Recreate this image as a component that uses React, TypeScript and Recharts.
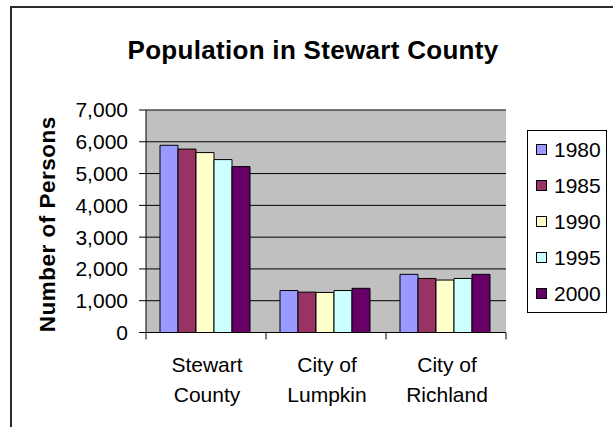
import React from 'react';
import { BarChart, Bar, XAxis, YAxis, CartesianGrid, Legend, Label } from 'recharts';

const categories = ['Stewart County', 'City of Lumpkin', 'City of Richland'];
const years = ['1980', '1985', '1990', '1995', '2000'];
const pop1980 = [5890, 1320, 1830];
const pop1985 = [5770, 1270, 1700];
const pop1990 = [5660, 1260, 1650];
const pop1995 = [5440, 1320, 1700];
const pop2000 = [5220, 1390, 1830];
const yTicks = [0, 1000, 2000, 3000, 4000, 5000, 6000, 7000];

const seriesValues = [pop1980, pop1985, pop1990, pop1995, pop2000];
const seriesColors = ['#9999FF', '#993366', '#FFFFCC', '#CCFFFF', '#660066'];

const data = categories.map((name, i) => {
  const row: Record<string, string | number> = { name };
  years.forEach((y, s) => {
    row[y] = seriesValues[s][i];
  });
  return row;
});

const FONT = '"Liberation Sans", Arial, sans-serif';

// chart frame
const CHART_W = 613;
const CHART_H = 427;
const MARGIN = { top: 110, right: 6, bottom: 24.5, left: 0 };
const Y_AXIS_W = 146;
const LEGEND_W = 101;
const PLOT_W = CHART_W - MARGIN.left - MARGIN.right - Y_AXIS_W - LEGEND_W;
const BAND = PLOT_W / categories.length;
const TICK_LEN = 7;

const fmt = (v: number) => v.toLocaleString('en-US');

// Category label in two lines, with tick marks on the category boundaries
const CategoryTick = (props: any) => {
  const { x, y, payload, index } = props;
  const words = String(payload.value).split(' ');
  const lines = words.length > 2 ? [words.slice(0, 2).join(' '), words.slice(2).join(' ')] : words;
  const axisY = y - TICK_LEN;
  const last = index === categories.length - 1;
  return (
    <g>
      <line x1={x - BAND / 2} x2={x - BAND / 2} y1={axisY} y2={axisY + TICK_LEN} stroke="#000" />
      {last && <line x1={x + BAND / 2} x2={x + BAND / 2} y1={axisY} y2={axisY + TICK_LEN} stroke="#000" />}
      <text x={x} y={y} textAnchor="middle" fontFamily={FONT} fontSize={21} fill="#000">
        {lines.map((l, i) => (
          <tspan key={i} x={x + 1} dy={i === 0 ? 32 : 30.5}>
            {l}
          </tspan>
        ))}
      </text>
    </g>
  );
};

const LegendBox = (props: any) => {
  const items = props.payload || [];
  return (
    <div style={{ width: LEGEND_W, boxSizing: 'border-box', paddingLeft: 21 }}>
      <div
        style={{
          width: 80,
          boxSizing: 'border-box',
          border: '1px solid #000',
          background: '#fff',
          fontFamily: FONT,
          fontSize: 21,
          color: '#000',
        }}
      >
        {items.map((it: any) => (
          <div
            key={it.value}
            style={{ height: 36.2, display: 'flex', alignItems: 'center', paddingLeft: 8 }}
          >
            <span
              style={{
                display: 'inline-block',
                width: 11,
                height: 11,
                boxSizing: 'border-box',
                border: '1px solid #000',
                background: it.color,
                marginRight: 7,
              }}
            />
            <span style={{ lineHeight: '21px' }}>{it.value}</span>
          </div>
        ))}
      </div>
    </div>
  );
};

const AxisTitle = (props: any) => {
  const { viewBox } = props;
  const cx = viewBox.x + 47;
  const cy = viewBox.y + viewBox.height / 2 + 3;
  return (
    <text
      x={cx}
      y={cy}
      transform={`rotate(-90, ${cx}, ${cy})`}
      textAnchor="middle"
      dominantBaseline="central"
      fontFamily={FONT}
      fontWeight="bold"
      fontSize={22.5}
      letterSpacing={0.5}
      fill="#000"
    >
      Number of Persons
    </text>
  );
};

export default function App() {
  return (
    <div
      style={{
        position: 'absolute',
        left: 0,
        top: 0,
        width: CHART_W,
        height: CHART_H,
        overflow: 'hidden',
        background: '#fff',
      }}
    >
      <div
        style={{
          position: 'absolute',
          left: 10,
          top: 6,
          width: 640,
          height: 460,
          border: '2px solid #2a2a2a',
          boxSizing: 'border-box',
        }}
      />
      <div
        style={{
          position: 'absolute',
          left: 0,
          top: 35,
          width: 626,
          textAlign: 'center',
          fontFamily: FONT,
          fontWeight: 'bold',
          fontSize: 26,
          lineHeight: '30px',
          letterSpacing: 0.3,
          color: '#000',
        }}
      >
        Population in Stewart County
      </div>
      <div style={{ position: 'absolute', left: 0, top: 0 }}>
        <BarChart
          width={CHART_W}
          height={CHART_H}
          data={data}
          margin={MARGIN}
          barCategoryGap={14}
          barGap={0}
        >
          <CartesianGrid
            vertical={false}
            horizontal
            stroke="#000"
            strokeWidth={1}
            fill="#C0C0C0"
            fillOpacity={1}
          />
          <XAxis
            dataKey="name"
            height={70}
            axisLine={{ stroke: '#000' }}
            tickLine={false}
            tickSize={TICK_LEN}
            tickMargin={0}
            interval={0}
            tick={<CategoryTick />}
          />
          <YAxis
            width={Y_AXIS_W}
            domain={[0, 7000]}
            ticks={yTicks}
            interval={0}
            axisLine={{ stroke: '#000' }}
            tickLine={{ stroke: '#000' }}
            tickSize={TICK_LEN}
            tickMargin={11}
            tickFormatter={fmt}
            tick={{ fontFamily: FONT, fontSize: 21, fill: '#000' }}
          >
            <Label content={<AxisTitle />} />
          </YAxis>
          <YAxis
            yAxisId="frame"
            orientation="right"
            width={0}
            domain={[0, 7000]}
            axisLine={{ stroke: '#808080' }}
            tick={false}
            tickLine={false}
          />
          <Legend
            layout="vertical"
            align="right"
            verticalAlign="top"
            wrapperStyle={{ top: 130, right: 6 }}
            content={<LegendBox />}
          />
          {years.map((y, s) => (
            <Bar
              key={y}
              dataKey={y}
              name={y}
              fill={seriesColors[s]}
              stroke="#000"
              strokeWidth={1}
              isAnimationActive={false}
            />
          ))}
        </BarChart>
      </div>
    </div>
  );
}
